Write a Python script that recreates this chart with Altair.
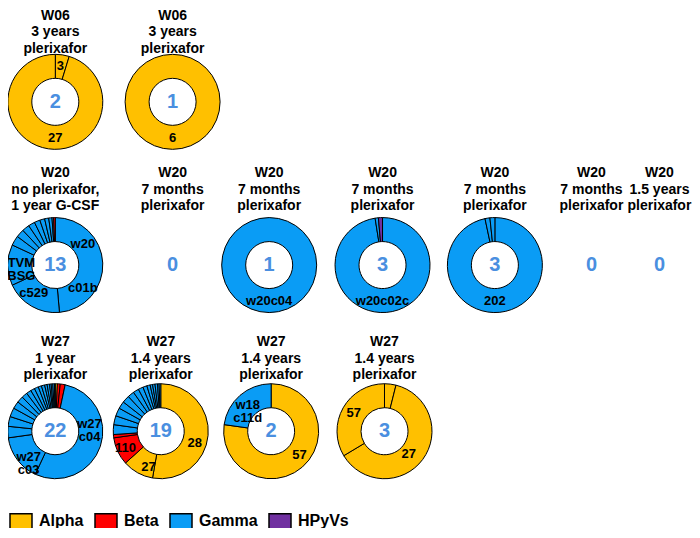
import altair as alt
import pandas as pd

FONT = "Liberation Sans"

# ---------------- data ----------------
clades = ["Alpha", "Beta", "Gamma", "HPyVs"]
clade_colors = ["#FFC000", "#FF0000", "#0A9CF5", "#7030A0"]

panel_ids = ["W06_a", "W06_b",
             "W20_a", "W20_b", "W20_c", "W20_d", "W20_e", "W20_f", "W20_g",
             "W27_a", "W27_b", "W27_c", "W27_d"]
panel_titles = [
    ["W06", "3 years", "plerixafor"], ["W06", "3 years", "plerixafor"],
    ["W20", "no plerixafor,", "1 year G-CSF"], ["W20", "7 months", "plerixafor"],
    ["W20", "7 months", "plerixafor"], ["W20", "7 months", "plerixafor"],
    ["W20", "7 months", "plerixafor"], ["W20", "7 months", "plerixafor"],
    ["W20", "1.5 years", "plerixafor"],
    ["W27", "1 year", "plerixafor"], ["W27", "1.4 years", "plerixafor"],
    ["W27", "1.4 years", "plerixafor"], ["W27", "1.4 years", "plerixafor"],
]
panel_counts = [2, 1, 13, 0, 1, 3, 3, 0, 0, 22, 19, 2, 3]

# ring slices: clade and relative size, clockwise from 12 o'clock
w06_a_clades = ["Alpha", "Alpha"]
w06_a_sizes = [17, 343]
w06_b_clades = ["Alpha"]
w06_b_sizes = [360]
w20_a_clades = ["Gamma"] * 12 + ["Beta"]
w20_a_sizes = [175, 70, 50, 12, 10, 9, 8, 7, 6, 5, 4, 2, 2]
w20_c_clades = ["Gamma"]
w20_c_sizes = [360]
w20_d_clades = ["Gamma", "Gamma", "HPyVs"]
w20_d_sizes = [351, 4, 5]
w20_e_clades = ["Gamma", "Gamma", "Gamma"]
w20_e_sizes = [348, 6, 6]
w27_a_clades = ["Alpha", "Beta", "Beta", "Gamma", "Gamma"] + ["Gamma"] * 17
w27_a_sizes = [2.5, 3.5, 6, 193, 57,
               14, 12, 11, 9, 8, 7, 6, 5, 5, 4, 4, 3, 3, 2, 2, 2, 1]
w27_b_clades = ["Alpha", "Alpha", "Beta", "Beta"] + ["Gamma"] * 15
w27_b_sizes = [190, 38, 34, 4, 12, 11, 10, 9, 9, 8, 7, 6, 5, 4, 3, 3, 3, 2, 2]
w27_c_clades = ["Alpha", "Gamma"]
w27_c_sizes = [278, 82]
w27_d_clades = ["Alpha", "Alpha", "Alpha"]
w27_d_sizes = [14, 225, 121]

slices = {
    "W06_a": (w06_a_clades, w06_a_sizes),
    "W06_b": (w06_b_clades, w06_b_sizes),
    "W20_a": (w20_a_clades, w20_a_sizes),
    "W20_c": (w20_c_clades, w20_c_sizes),
    "W20_d": (w20_d_clades, w20_d_sizes),
    "W20_e": (w20_e_clades, w20_e_sizes),
    "W27_a": (w27_a_clades, w27_a_sizes),
    "W27_b": (w27_b_clades, w27_b_sizes),
    "W27_c": (w27_c_clades, w27_c_sizes),
    "W27_d": (w27_d_clades, w27_d_sizes),
}

# in-ring labels: panel, text
label_panel = ["W06_a", "W06_a", "W06_b", "W20_a", "W20_a", "W20_a", "W20_a",
               "W20_c", "W20_d", "W20_e", "W27_a", "W27_a",
               "W27_b", "W27_b", "W27_b", "W27_c", "W27_c", "W27_d", "W27_d"]
label_text = ["3", "27", "6", "w20", "c01b", "c529", "TVM\nBSG",
              "w20c04", "w20c02c", "202", "w27\nc04", "w27\nc03",
              "28", "110", "27", "57", "w18\nc11d", "27", "57"]

# ---------------- layout (reference pixel coordinates) ----------------
panel_cx = [51, 170, 51, 170, 268, 383, 497, 595, 664, 51, 158, 270, 385]
row_cy = {"W06": 99, "W20": 266, "W27": 436}
row_title_y = {"W06": 11, "W20": 172, "W27": 345}   # first title line
# label clock angle (deg) and distance from the ring centre (px)
label_angle = [8, 180, 180, 52, 130, 218, 273, 180, 180, 180, 78, 226,
               109, 245, 199, 130, 318, 133, 301]
label_radius = [36, 36, 36, 35, 36, 35, 34, 36, 36, 36, 35, 37,
                36, 39, 38, 37, 35, 33, 36]

W, H = 684, 520
R_OUT, R_IN = 47.5, 23.5

panel_df = pd.DataFrame({
    "panel": panel_ids,
    "title": ["\n".join(t) for t in panel_titles],
    "count": [str(c) for c in panel_counts],
    "cx": panel_cx,
})
panel_df["cy"] = [row_cy[p[:3]] for p in panel_ids]
panel_df["ty"] = [row_title_y[p[:3]] for p in panel_ids]

rows = []
for pid, (cl, sz) in slices.items():
    for i, (c, s) in enumerate(zip(cl, sz)):
        rows.append({"panel": pid, "order": i, "clade": c, "size": s})
slice_df = pd.DataFrame(rows).merge(panel_df[["panel", "cx", "cy"]], on="panel")

label_df = pd.DataFrame({"panel": label_panel, "text": label_text,
                         "angle": label_angle, "r": label_radius})
label_df = label_df.merge(panel_df[["panel", "cx", "cy"]], on="panel")

xs = alt.Scale(domain=[3, 697], nice=False, zero=False)
ys = alt.Scale(domain=[3, 535], nice=False, zero=False, reverse=True)
ts = alt.Scale(domain=[0, 360])

arcs = (
    alt.Chart(slice_df)
    .transform_joinaggregate(total="sum(size)", groupby=["panel"])
    .transform_window(cum="sum(size)", groupby=["panel"],
                      sort=[alt.SortField("order")])
    .transform_calculate(t0="(datum.cum - datum.size) / datum.total * 360",
                         t1="datum.cum / datum.total * 360")
    .mark_arc(innerRadius=R_IN, outerRadius=R_OUT, stroke="black",
              strokeWidth=1)
    .encode(
        x=alt.X("cx:Q", scale=xs, axis=None),
        y=alt.Y("cy:Q", scale=ys, axis=None),
        theta=alt.Theta("t0:Q", scale=ts, stack=False),
        theta2="t1:Q",
        color=alt.Color(
            "clade:N",
            scale=alt.Scale(domain=clades, range=clade_colors),
            legend=alt.Legend(
                orient="none", legendX=1, legendY=501, direction="horizontal",
                title=None, symbolType="M-1,-0.68H1V0.68H-1Z", symbolSize=484,
                symbolStrokeColor="black", symbolStrokeWidth=1.5,
                symbolOpacity=1, labelFont=FONT, labelFontSize=16,
                labelFontWeight="bold", labelColor="black", labelOffset=6,
                columnPadding=8, labelLimit=200,
            ),
        ),
    )
)

ring_labels = (
    alt.Chart(label_df)
    .mark_text(font=FONT, fontSize=13, fontWeight="bold", color="black",
               lineBreak="\n", lineHeight=13)
    .encode(
        x=alt.X("cx:Q", scale=xs, axis=None),
        y=alt.Y("cy:Q", scale=ys, axis=None),
        theta=alt.Theta("angle:Q", scale=ts),
        radius=alt.Radius("r:Q", scale=None),
        text="text:N",
    )
)

counts = (
    alt.Chart(panel_df)
    .mark_text(font=FONT, fontSize=20, fontWeight="bold", color="#4A8FE0")
    .encode(
        x=alt.X("cx:Q", scale=xs, axis=None),
        y=alt.Y("cy:Q", scale=ys, axis=None),
        text="count:N",
    )
)

titles = (
    alt.Chart(panel_df)
    .mark_text(font=FONT, fontSize=14, fontWeight="bold", color="black",
               lineBreak="\n", lineHeight=16.5, baseline="middle")
    .encode(
        x=alt.X("cx:Q", scale=xs, axis=None),
        y=alt.Y("ty:Q", scale=ys, axis=None),
        text="title:N",
    )
)

chart = (
    alt.layer(arcs, ring_labels, counts, titles)
    .properties(width=W, height=H, padding=0,
                autosize=alt.AutoSizeParams(type="none"))
    .configure_view(stroke=None)
)

chart.save("out.html", embed_options={"renderer": "svg", "actions": False})
